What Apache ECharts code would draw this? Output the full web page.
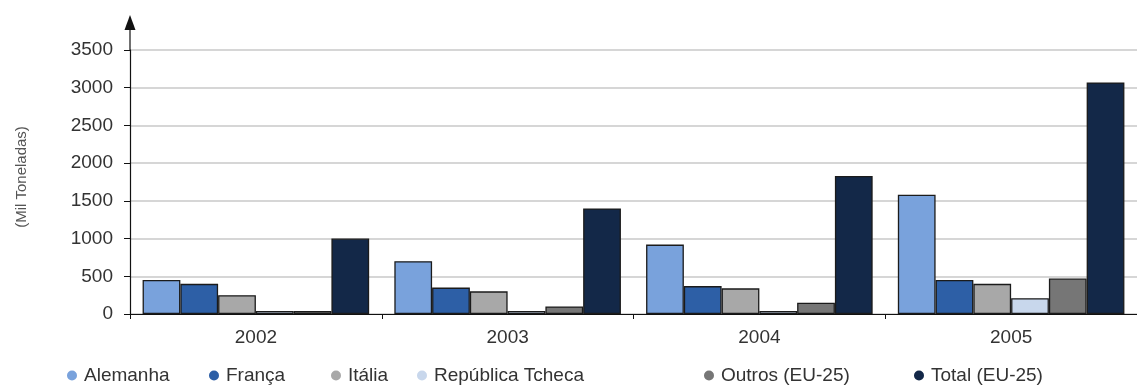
<!DOCTYPE html>
<html>
<head>
<meta charset="utf-8">
<script src="https://cdn.jsdelivr.net/npm/echarts@6/dist/echarts.min.js"></script>
<style>
  html, body { margin: 0; padding: 0; background: #ffffff; }
  #chart { width: 1137px; height: 387px; }
</style>
</head>
<body>
<div id="chart"></div>
<script>
// Years on the category axis
const years = ['2002', '2003', '2004', '2005'];

// Production per country (thousand tonnes)
const alemanha = [450, 700, 920, 1580];
const franca = [400, 350, 370, 450];
const italia = [250, 300, 340, 400];
const republicaTcheca = [40, 40, 40, 210];
const outros = [40, 100, 150, 470];
const total = [1000, 1400, 1830, 3070];

const seriesNames = ['Alemanha', 'França', 'Itália', 'República Tcheca', 'Outros (EU-25)', 'Total (EU-25)'];
const seriesValues = [alemanha, franca, italia, republicaTcheca, outros, total];

// Y axis ticks
const yMin = 0, yMax = 3500, yStep = 500;

const colors = ['#79a2dc', '#2d5fa6', '#a8a8a8', '#c8d7ec', '#767676', '#132848'];
const legendLeft = [67, 209, 331, 417, 704, 914];
const FONT = '"Liberation Sans", Arial, sans-serif';
const GRID_LEFT = 130;

const chart = echarts.init(document.getElementById('chart'));

chart.setOption({
  animation: false,
  textStyle: { fontFamily: FONT },
  grid: { left: GRID_LEFT, right: 0, top: 50, bottom: 73 },
  legend: seriesNames.map((name, i) => ({
    data: [name],
    left: legendLeft[i],
    top: 366,
    icon: 'circle',
    itemWidth: 10,
    itemHeight: 10,
    itemStyle: { borderWidth: 0 },
    textStyle: { fontSize: 19, color: '#333', fontFamily: FONT, padding: [0, 0, 0, 2] },
    padding: 0
  })),
  xAxis: {
    type: 'category',
    data: years,
    axisLine: { lineStyle: { color: '#111', width: 1.2 } },
    axisTick: { show: true, length: 5, lineStyle: { color: '#111' } },
    axisLabel: { fontSize: 19, color: '#333', margin: 14, fontFamily: FONT }
  },
  yAxis: {
    type: 'value',
    min: yMin,
    max: yMax,
    interval: yStep,
    name: '(Mil Toneladas)',
    nameLocation: 'middle',
    nameRotate: 90,
    nameGap: 101,
    nameTextStyle: { fontSize: 15, color: '#555', fontFamily: FONT, padding: [0, 0, 0, 10] },
    axisLine: { show: true, lineStyle: { color: '#111', width: 1.2 } },
    axisTick: { show: true, length: 6, lineStyle: { color: '#111' } },
    axisLabel: {
      fontSize: 19, color: '#333', margin: 17, fontFamily: FONT,
      formatter: (v) => String(v)
    },
    splitLine: { lineStyle: { color: '#c9c9c9', width: 1.5 } }
  },
  series: seriesNames.map((name, i) => ({
    name: name,
    type: 'bar',
    data: seriesValues[i],
    barGap: '0%',
    barCategoryGap: '10%',
    itemStyle: { color: colors[i], borderColor: '#1b1b1b', borderWidth: 1.3 }
  }))
});

// Extend the value axis above its top tick and finish it with an arrowhead
const axisTopY = chart.convertToPixel({ yAxisIndex: 0 }, yMax);
chart.setOption({
  graphic: [
    {
      type: 'line',
      shape: { x1: GRID_LEFT, y1: axisTopY, x2: GRID_LEFT, y2: axisTopY - 20 },
      style: { stroke: '#111', lineWidth: 1.2 },
      z: 10
    },
    {
      type: 'polygon',
      shape: { points: [[GRID_LEFT - 5.5, axisTopY - 20], [GRID_LEFT + 5.5, axisTopY - 20], [GRID_LEFT, axisTopY - 35]] },
      style: { fill: '#111' },
      z: 10
    }
  ]
});
</script>
</body>
</html>
